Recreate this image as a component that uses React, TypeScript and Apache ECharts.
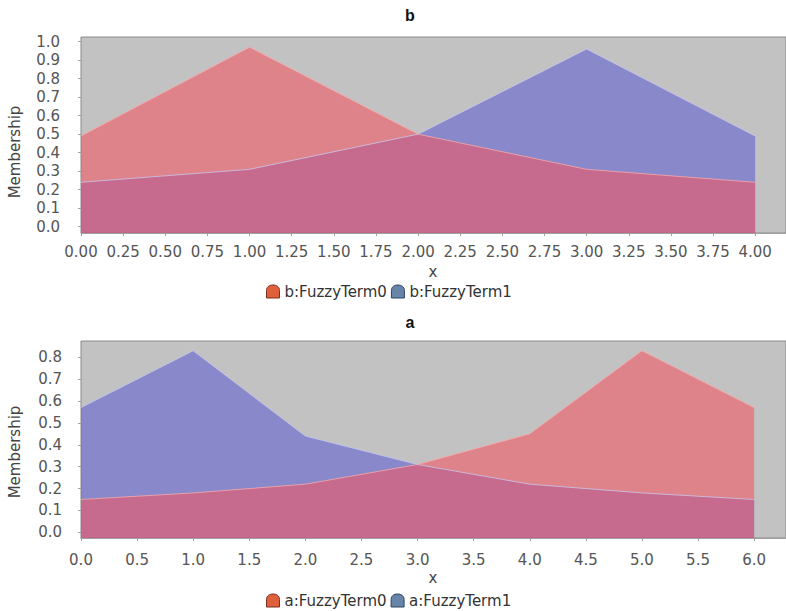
import React, { useEffect, useRef } from "react";
import * as echarts from "echarts";

// Chart "b"
const bX = [0, 1, 2, 3, 4];
const bTerm0 = [0.49, 0.97, 0.5, 0.31, 0.24];
const bTerm1 = [0.24, 0.31, 0.5, 0.96, 0.49];
const bXTicks = [0, 0.25, 0.5, 0.75, 1, 1.25, 1.5, 1.75, 2, 2.25, 2.5, 2.75, 3, 3.25, 3.5, 3.75, 4];
const bYTicks = [0, 0.1, 0.2, 0.3, 0.4, 0.5, 0.6, 0.7, 0.8, 0.9, 1.0];

// Chart "a"
const aX = [0, 1, 2, 3, 4, 5, 6];
const aTerm0 = [0.15, 0.18, 0.22, 0.31, 0.45, 0.83, 0.57];
const aTerm1 = [0.57, 0.83, 0.44, 0.31, 0.22, 0.18, 0.15];
const aXTicks = [0, 0.5, 1, 1.5, 2, 2.5, 3, 3.5, 4, 4.5, 5, 5.5, 6];
const aYTicks = [0, 0.1, 0.2, 0.3, 0.4, 0.5, 0.6, 0.7, 0.8];

const FONT = "DejaVu Sans";
const RED = "rgb(240,88,100)";
const BLUE = "rgb(96,96,208)";
const HOUSE = "path://M0,14 L0,6 C0,2 3,0 7,0 C11,0 14,2 14,6 L14,14 Z";

const pairs = (xs: number[], ys: number[]) => xs.map((x, i) => [x, ys[i]]);

export default function App() {
  const ref = useRef<HTMLDivElement>(null);
  useEffect(() => {
    document.body.style.margin = "0";
    const chart = echarts.init(ref.current!, null, { renderer: "svg" });

    const xAxisCommon = (max: number, interval: number, ticks: number[], digits: number, margin: number, gridIndex: number) => ({
      type: "value",
      gridIndex,
      min: 0,
      max,
      interval,
      axisLine: { show: true, onZero: false, lineStyle: { color: "#a0a0a0", width: 1 } },
      axisTick: { show: true, length: 3, customValues: ticks, lineStyle: { color: "#a0a0a0" } },
      axisLabel: {
        customValues: ticks,
        margin,
        color: "#555",
        fontFamily: FONT,
        fontSize: 15,
        formatter: (v: number) => v.toFixed(digits),
      },
      splitLine: { show: false },
    });

    const yAxisCommon = (min: number, max: number, ticks: number[], margin: number, gridIndex: number) => ({
      type: "value",
      gridIndex,
      min,
      max,
      axisLine: { show: false, onZero: false },
      axisTick: { show: true, length: 3, customValues: ticks, lineStyle: { color: "#a0a0a0" } },
      axisLabel: {
        customValues: ticks,
        margin,
        color: "#555",
        fontFamily: FONT,
        fontSize: 15,
        formatter: (v: number) => v.toFixed(1),
      },
      splitLine: { show: false },
    });

    const areaSeries = (name: string, data: number[][], color: string, edge: string, idx: number) => ({
      name,
      type: "line",
      xAxisIndex: idx,
      yAxisIndex: idx,
      data,
      symbol: "none",
      itemStyle: { color },
      lineStyle: { width: 1, color: edge },
      areaStyle: { color, opacity: 0.6, origin: "start" },
    });

    const legendItem = (name: string, color: string, border: string) => ({
      name,
      icon: HOUSE,
      itemStyle: { color, borderColor: border, borderWidth: 1 },
    });

    const option = {
      animation: false,
      backgroundColor: "#ffffff",
      grid: [
        { left: 81, top: 37, right: -2, height: 196, show: true, backgroundColor: "#c2c2c2", borderColor: "#8a8a8a", borderWidth: 1 },
        { left: 81, top: 341, right: -2, height: 197, show: true, backgroundColor: "#c2c2c2", borderColor: "#8a8a8a", borderWidth: 1 },
      ],
      xAxis: [
        xAxisCommon(4.183, 0.25, bXTicks, 2, 11, 0),
        xAxisCommon(6.284, 0.5, aXTicks, 1, 14, 1),
      ],
      yAxis: [
        yAxisCommon(-0.034, 1.025, bYTicks, 21, 0),
        yAxisCommon(-0.026, 0.8745, aYTicks, 19, 1),
      ],
      legend: [
        {
          left: 264,
          top: 282,
          padding: 2,
          itemWidth: 13,
          itemHeight: 14,
          itemGap: 4,
          textStyle: { fontFamily: FONT, fontSize: 15, color: "#333" },
          data: [legendItem("b:FuzzyTerm0", "#e0603c", "#7a3020"), legendItem("b:FuzzyTerm1", "#6884a8", "#2c4460")],
        },
        {
          left: 264,
          top: 591,
          padding: 2,
          itemWidth: 13,
          itemHeight: 14,
          itemGap: 4,
          textStyle: { fontFamily: FONT, fontSize: 15, color: "#333" },
          data: [legendItem("a:FuzzyTerm0", "#e0603c", "#7a3020"), legendItem("a:FuzzyTerm1", "#6884a8", "#2c4460")],
        },
      ],
      graphic: [
        { type: "text", x: 410, y: 15.5, style: { text: "b", font: 'bold 16px "Liberation Sans"', fill: "#111", align: "center", verticalAlign: "middle" } },
        { type: "text", x: 410, y: 322, style: { text: "a", font: 'bold 16px "Liberation Sans"', fill: "#111", align: "center", verticalAlign: "middle" } },
        { type: "text", x: 15, y: 152, rotation: Math.PI / 2, style: { text: "Membership", font: `15px "${FONT}"`, fill: "#444", align: "center", verticalAlign: "middle" } },
        { type: "text", x: 15, y: 452, rotation: Math.PI / 2, style: { text: "Membership", font: `15px "${FONT}"`, fill: "#444", align: "center", verticalAlign: "middle" } },
        { type: "text", x: 433, y: 272, style: { text: "x", font: `15px "${FONT}"`, fill: "#444", align: "center", verticalAlign: "middle" } },
        { type: "text", x: 433, y: 578, style: { text: "x", font: `15px "${FONT}"`, fill: "#444", align: "center", verticalAlign: "middle" } },
      ],
      series: [
        areaSeries("b:FuzzyTerm1", pairs(bX, bTerm1), BLUE, "rgba(200,200,240,0.8)", 0),
        areaSeries("b:FuzzyTerm0", pairs(bX, bTerm0), RED, "rgba(250,170,170,0.8)", 0),
        areaSeries("a:FuzzyTerm1", pairs(aX, aTerm1), BLUE, "rgba(200,200,240,0.8)", 1),
        areaSeries("a:FuzzyTerm0", pairs(aX, aTerm0), RED, "rgba(250,170,170,0.8)", 1),
      ],
    };

    chart.setOption(option as any);
    return () => chart.dispose();
  }, []);
  return <div ref={ref} style={{ width: 786, height: 611 }} />;
}
